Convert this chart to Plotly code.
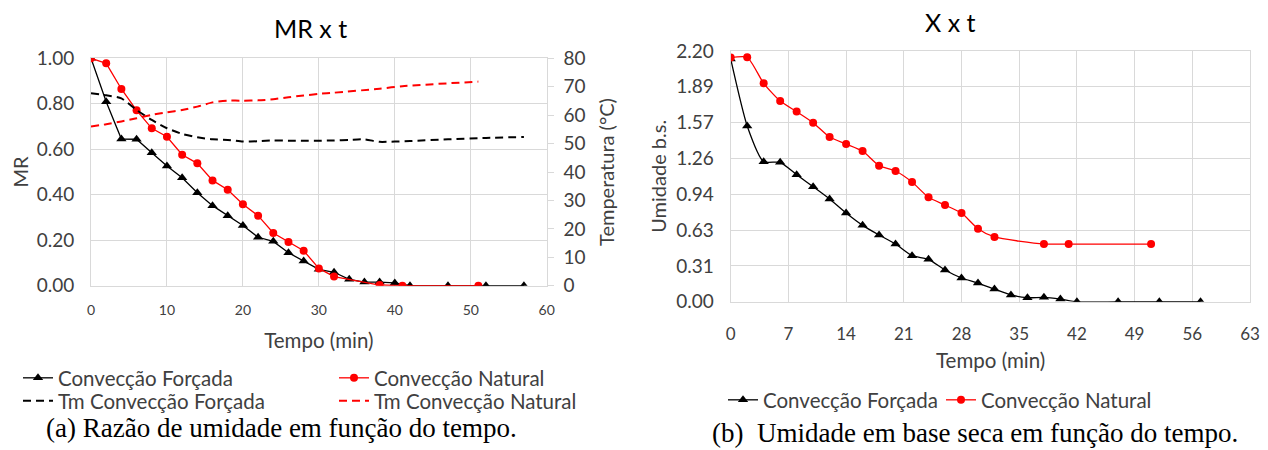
import plotly.graph_objects as go

# ---- data (a) MR x t ----
t_forcada = [0, 2, 4, 6, 8, 10, 12, 14, 16, 18, 20, 22, 24, 26, 28, 30, 32, 34, 36, 38, 40, 42, 47, 52, 57]
mr_forcada = [1.00, 0.809, 0.645, 0.644, 0.585, 0.526, 0.475, 0.409, 0.352, 0.308, 0.265, 0.213, 0.195,
              0.145, 0.109, 0.072, 0.059, 0.028, 0.016, 0.016, 0.012, 0.0, 0.0, 0.0, 0.0]
tm_forcada = [67.7, 67.0, 65.9, 61.8, 58.3, 55.4, 53.4, 52.2, 51.5, 51.3, 50.7, 50.8, 51.1, 51.0, 51.0,
              51.0, 51.1, 51.3, 51.5, 50.6, 50.7, 50.9, 51.5, 52.0, 52.3]

t_natural = [0, 2, 4, 6, 8, 10, 12, 14, 16, 18, 20, 22, 24, 26, 28, 30, 32, 38, 41, 51]
mr_natural = [1.00, 0.978, 0.865, 0.771, 0.692, 0.655, 0.576, 0.538, 0.463, 0.422, 0.358, 0.308, 0.232,
              0.192, 0.154, 0.076, 0.040, 0.003, 0.0, 0.0]
tm_natural = [56.0, 56.8, 57.8, 58.9, 60.1, 61.0, 61.8, 63.0, 64.5, 65.1, 65.1, 65.2, 65.6, 66.3, 66.9,
              67.5, 67.9, 69.3, 70.2, 71.8]

# ---- data (b) X x t ----
x_forcada = [2.13, 1.542, 1.229, 1.223, 1.115, 1.009, 0.901, 0.778, 0.670, 0.585, 0.506, 0.404, 0.372,
             0.278, 0.208, 0.164, 0.111, 0.059, 0.035, 0.038, 0.023, 0.0, 0.0, 0.0, 0.0]
x_natural = [2.142, 2.145, 1.916, 1.761, 1.668, 1.571, 1.445, 1.384, 1.322, 1.194, 1.147, 1.050, 0.916,
             0.848, 0.778, 0.641, 0.568, 0.506, 0.506, 0.506]

# page body has an 8px default margin: figure sized to fit the remaining window
OFF = 8
W, H = 1268 - OFF, 450 - OFF
def px(x): return (x - OFF) / W
def py(y): return 1 - (y - OFF) / H

TXT = "#404040"
GRID = "#d9d9d9"
FONT = "Lato"

fig = go.Figure()

# left chart
fig.add_trace(go.Scatter(x=t_forcada, y=mr_forcada, mode="lines+markers", name="Convecção Forçada",
                         line=dict(color="black", width=1.3), marker=dict(symbol="triangle-up", size=9, color="black"),
                         xaxis="x", yaxis="y", legend="legend"))
fig.add_trace(go.Scatter(x=t_natural, y=mr_natural, mode="lines+markers", name="Convecção Natural",
                         line=dict(color="#ff0000", width=1.3), marker=dict(symbol="circle", size=8, color="#ff0000"),
                         xaxis="x", yaxis="y", legend="legend"))
fig.add_trace(go.Scatter(x=t_forcada, y=tm_forcada, mode="lines", name="Tm Convecção Forçada",
                         line=dict(color="black", width=2, dash="8px,5px", shape="spline", smoothing=0.6),
                         xaxis="x", yaxis="y2", legend="legend2"))
fig.add_trace(go.Scatter(x=t_natural, y=tm_natural, mode="lines", name="Tm Convecção Natural",
                         line=dict(color="#ff0000", width=2, dash="8px,5px", shape="spline", smoothing=0.6),
                         xaxis="x", yaxis="y2", legend="legend2"))

# right chart
fig.add_trace(go.Scatter(x=t_forcada, y=x_forcada, mode="lines+markers", name="Convecção Forçada",
                         line=dict(color="black", width=1.3, shape="spline", smoothing=0.6),
                         marker=dict(symbol="triangle-up", size=9, color="black"),
                         xaxis="x2", yaxis="y3", legend="legend3"))
fig.add_trace(go.Scatter(x=t_natural, y=x_natural, mode="lines+markers", name="Convecção Natural",
                         line=dict(color="#ff0000", width=1.3, shape="spline", smoothing=0.6),
                         marker=dict(symbol="circle", size=8, color="#ff0000"),
                         xaxis="x2", yaxis="y3", legend="legend3"))

axcommon = dict(showgrid=True, gridcolor=GRID, gridwidth=1, zeroline=False, showline=True,
                linecolor=GRID, linewidth=1, mirror=True, ticks="", color=TXT, automargin=False)

legcommon = dict(orientation="h", xref="container", yref="container", xanchor="left", yanchor="middle",
                 itemwidth=30, font=dict(size=20.5, color=TXT, family=FONT), bgcolor="rgba(0,0,0,0)",
                 borderwidth=0)

fig.update_layout(
    width=W, height=H, margin=dict(l=0, r=0, t=0, b=0, autoexpand=False),
    paper_bgcolor="white", plot_bgcolor="white",
    font=dict(family=FONT, color=TXT, size=18),
    xaxis=dict(domain=[px(91), px(546.7)], anchor="y", range=[0, 60], dtick=10,
               tickfont=dict(size=14), ticklabelstandoff=11,
               title=dict(text="Tempo (min)", font=dict(size=20.5), standoff=17), **axcommon),
    yaxis=dict(domain=[py(285.7), py(58.3)], anchor="x", range=[0, 1], dtick=0.2, tickformat=".2f",
               tickfont=dict(size=19), ticklabelstandoff=12,
               title=dict(text="MR", font=dict(size=20), standoff=8), **axcommon),
    yaxis2=dict(overlaying="y", side="right", anchor="x", range=[0, 80], dtick=10,
                showgrid=False, zeroline=False, showline=False, ticks="outside", ticklen=6,
                tickcolor=GRID, color=TXT, tickfont=dict(size=19), ticklabelstandoff=6, automargin=False,
                title=dict(text="Temperatura (°C)", font=dict(size=20))),
    xaxis2=dict(domain=[px(730.7), px(1250)], anchor="y3", range=[0, 63], dtick=7,
                tickfont=dict(size=17), ticklabelstandoff=17, **axcommon),
    yaxis3=dict(domain=[py(301.7), py(51)], anchor="x2", range=[0, 2.2], dtick=2.2 / 7, tickformat=".2f",
                tickfont=dict(size=19), ticklabelstandoff=12,
                title=dict(text="Umidade b.s.", font=dict(size=20), standoff=4), **axcommon),
    legend=dict(x=px(18), y=py(378), entrywidth=271, **legcommon),
    legend2=dict(x=px(18), y=py(401), entrywidth=271, **legcommon),
    legend3=dict(x=px(723), y=py(400), entrywidth=173, **legcommon),
    annotations=[
        dict(text="MR x t", x=px(310), y=py(28), xref="paper", yref="paper", showarrow=False,
             font=dict(size=25, color="black", family=FONT), xanchor="center", yanchor="middle"),
        dict(text="X x t", x=px(950), y=py(22), xref="paper", yref="paper", showarrow=False,
             font=dict(size=25, color="black", family=FONT), xanchor="center", yanchor="middle"),
        dict(text="Tempo (min)", x=px(990), y=py(360), xref="paper", yref="paper", showarrow=False,
             font=dict(size=20.5, color=TXT, family=FONT), xanchor="center", yanchor="middle"),
        dict(text="(a) Razão de umidade em função do tempo.", x=px(44), y=py(428), xref="paper", yref="paper",
             showarrow=False, font=dict(size=27, color="black", family="Liberation Serif"),
             xanchor="left", yanchor="middle"),
        dict(text="(b)  Umidade em base seca em função do tempo.", x=px(710), y=py(433), xref="paper", yref="paper",
             showarrow=False, font=dict(size=27, color="black", family="Liberation Serif"),
             xanchor="left", yanchor="middle"),
    ],
)

fig.write_html("out.html")
